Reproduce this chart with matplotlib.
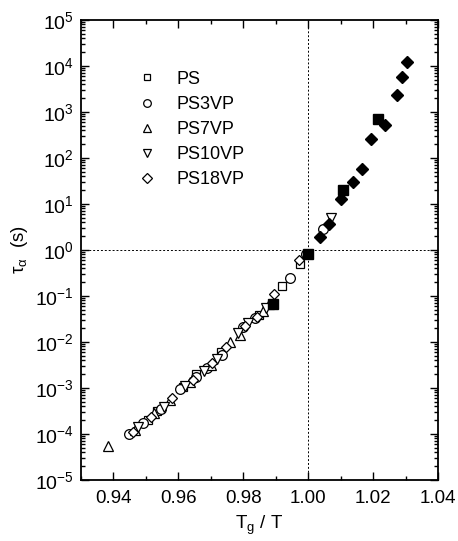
import matplotlib
matplotlib.use("Agg")
import matplotlib.pyplot as plt
from matplotlib.ticker import LogLocator, MultipleLocator, FixedLocator, NullFormatter

plt.rcParams['font.family'] = ['Liberation Sans', 'DejaVu Sans']
plt.rcParams['mathtext.fontset'] = 'custom'
plt.rcParams['mathtext.rm'] = 'Liberation Sans'
plt.rcParams['mathtext.it'] = 'Liberation Sans:italic'
plt.rcParams['mathtext.default'] = 'regular'

# ---- data (Tg/T, log10 tau) ----
ps_x = [0.9505, 0.9535, 0.9615, 0.9655, 0.9730, 0.9848, 0.9919, 0.9975]
ps_y = [-3.70, -3.50, -2.98, -2.70, -2.22, -1.42, -0.78, -0.30]
ps_fx = [0.9893, 1.0000, 1.0107, 1.0215]
ps_fy = [-1.17, -0.09, 1.30, 2.855]

ps3_x = [0.9447, 0.9490, 0.9545, 0.9605, 0.9655, 0.9688, 0.9735, 0.9800, 0.9835, 0.9943, 0.9993, 1.0045]
ps3_y = [-4.00, -3.76, -3.45, -3.03, -2.75, -2.56, -2.28, -1.68, -1.48, -0.60, -0.09, 0.45]

ps7_x = [0.9384, 0.9465, 0.9525, 0.9575, 0.9635, 0.9700, 0.9760, 0.9790, 0.9860, 0.9880]
ps7_y = [-4.26, -3.92, -3.55, -3.25, -2.88, -2.50, -2.00, -1.85, -1.32, -1.18]

ps10_x = [0.9475, 0.9555, 0.9620, 0.9680, 0.9720, 0.9785, 0.9815, 0.9870, 1.0071]
ps10_y = [-3.85, -3.42, -2.95, -2.62, -2.36, -1.80, -1.58, -1.25, 0.69]

ps18_x = [0.9460, 0.9515, 0.9580, 0.9645, 0.9705, 0.9748, 0.9805, 0.9842, 0.9895, 0.9973]
ps18_y = [-3.95, -3.62, -3.22, -2.82, -2.45, -2.10, -1.65, -1.45, -0.96, -0.22]
ps18_fx = [1.0037, 1.0063, 1.0101, 1.0139, 1.0165, 1.0193, 1.0236, 1.0275, 1.0289, 1.0304]
ps18_fy = [0.29, 0.565, 1.11, 1.485, 1.76, 2.41, 2.71, 3.37, 3.755, 4.08]

labels = ['PS', 'PS3VP', 'PS7VP', 'PS10VP', 'PS18VP']
xticks = [0.94, 0.96, 0.98, 1.00, 1.02, 1.04]

def p(v):
    return [10 ** a for a in v]

fig = plt.figure(figsize=(4.58, 5.41), dpi=100)
ax = fig.add_axes([81/458, 1 - 480/541, 357/458, 460/541])

ms = 6
kw = dict(linestyle='none', markerfacecolor='white', markeredgecolor='black', markeredgewidth=0.9)
ax.plot(ps_x, p(ps_y), marker='s', markersize=ms, **kw)
ax.plot(ps3_x, p(ps3_y), marker='o', markersize=ms + 1, **kw)
ax.plot(ps7_x, p(ps7_y), marker='^', markersize=ms + 1, **kw)
ax.plot(ps10_x, p(ps10_y), marker='v', markersize=ms + 1, **kw)
ax.plot(ps18_x, p(ps18_y), marker='D', markersize=ms - 0.5, **kw)
ax.plot(ps_fx, p(ps_fy), marker='s', markersize=ms + 1, linestyle='none', color='black')
ax.plot(ps18_fx, p(ps18_fy), marker='D', markersize=ms + 0.5, linestyle='none', color='black')

ax.axvline(1.0, color='black', linestyle=(0, (2, 2)), linewidth=0.7, zorder=0)
ax.axhline(1.0, color='black', linestyle=(0, (2, 2)), linewidth=0.7, zorder=0)

ax.set_yscale('log')
ax.set_xlim(0.93, 1.04)
ax.set_ylim(1e-5, 1e5)
ax.xaxis.set_major_locator(FixedLocator(xticks))
ax.set_xticklabels(['%.2f' % t for t in xticks])
ax.xaxis.set_minor_locator(MultipleLocator(0.01))
ax.yaxis.set_major_locator(LogLocator(base=10, numticks=20))
ax.yaxis.set_minor_locator(LogLocator(base=10, subs=range(2, 10), numticks=100))
ax.yaxis.set_minor_formatter(NullFormatter())
ax.set_yticks([10.0 ** k for k in range(-5, 6)])
ax.set_yticklabels(['10$^{%d}$' % k for k in range(-5, 6)])

ax.tick_params(which='both', direction='in', top=True, right=True, width=1)
ax.tick_params(axis='x', labelsize=13.5, pad=7)
ax.tick_params(axis='y', labelsize=14, pad=5)
ax.tick_params(which='major', length=6)
ax.tick_params(which='minor', length=3)
for s in ax.spines.values():
    s.set_linewidth(1.3)

ax.set_ylabel(r'$\tau_{\alpha}$  (s)', fontsize=13.5, labelpad=4)
ax.set_xlabel(r'T$_g$ / T', fontsize=13.5, labelpad=5)

# legend
leg_markers = ['s', 'o', '^', 'v', 'D']
leg_sizes = [5, 5.5, 5.5, 5.5, 5]
handles = [plt.Line2D([], [], marker=m, markersize=s, **kw) for m, s in zip(leg_markers, leg_sizes)]
ax.legend(handles, labels, loc='upper left', bbox_to_anchor=(0.12, 0.925), frameon=False,
          fontsize=13, handlelength=0.8, handletextpad=1.2, labelspacing=0.45)

fig.savefig('out.png', dpi=100)
